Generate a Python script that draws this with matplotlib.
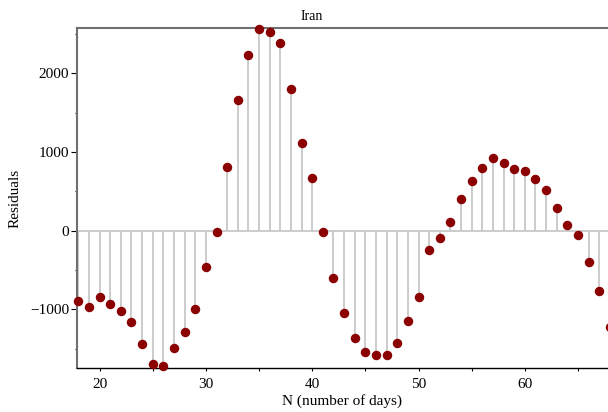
"""Iran residuals stem plot (Maple style)."""

import matplotlib

matplotlib.use("Agg")
import matplotlib.pyplot as plt
from matplotlib.ticker import MultipleLocator

plt.rcParams["font.family"] = ["Liberation Serif", "DejaVu Serif"]

days = list(range(18, 69))
residuals = [
    -889, -970, -838, -931, -1024, -1164, -1435, -1698, -1719, -1486,
    -1283, -999, -461, -17, 806, 1661, 2236, 2559, 2521, 2389,
    1797, 1114, 670, -17, -601, -1042, -1363, -1541, -1584, -1584,
    -1427, -1144, -838, -249, -93, 114, 403, 627, 797, 924,
    856, 788, 754, 657, 513, 284, 68, -59, -394, -766,
    -1220,
]
title = "Iran"
x_label = "N (number of days)"
y_label = "Residuals"

W, H = 608, 412
fig = plt.figure(figsize=(W / 100, H / 100), dpi=100)
ax = fig.add_axes([77 / W, (H - 368) / H, (W - 77) / W, (368 - 28) / H])

stem_col = "#c8c8c8"
ax.axhline(0, color=stem_col, lw=1.3, zorder=1)
ax.vlines(days, 0, residuals, color=stem_col, lw=1.3, zorder=2)
ax.plot(days, residuals, "o", color="#8b0000", ms=5.8, mec="#8b0000", zorder=3, clip_on=False)

ax.set_xlim(17.88, 67.82)
ax.set_ylim(-1745, 2576)

ax.xaxis.set_major_locator(MultipleLocator(10))
ax.xaxis.set_minor_locator(MultipleLocator(5))
ax.yaxis.set_major_locator(MultipleLocator(1000))
ax.yaxis.set_minor_locator(MultipleLocator(500))

ax.tick_params(axis="x", which="both", direction="out", length=2.5, width=0.8,
               labelsize=11, pad=5)
ax.tick_params(axis="y", which="major", direction="out", length=4.5, width=0.8,
               labelsize=11, pad=1)
ax.tick_params(axis="y", which="minor", direction="out", length=1.8, width=0.8)

for side in ("left", "top"):
    ax.spines[side].set_color("#707070")
    ax.spines[side].set_linewidth(1.5)
ax.spines["bottom"].set_color("black")
ax.spines["bottom"].set_linewidth(1.0)
ax.spines["right"].set_visible(False)

ax.set_xlabel(x_label, fontsize=11, labelpad=2)
ax.set_ylabel(y_label, fontsize=11, labelpad=6)
fig.text(312 / W, 1 - 16 / H, title, fontsize=10, ha="center", va="center")

fig.savefig("out.png", dpi=100)
